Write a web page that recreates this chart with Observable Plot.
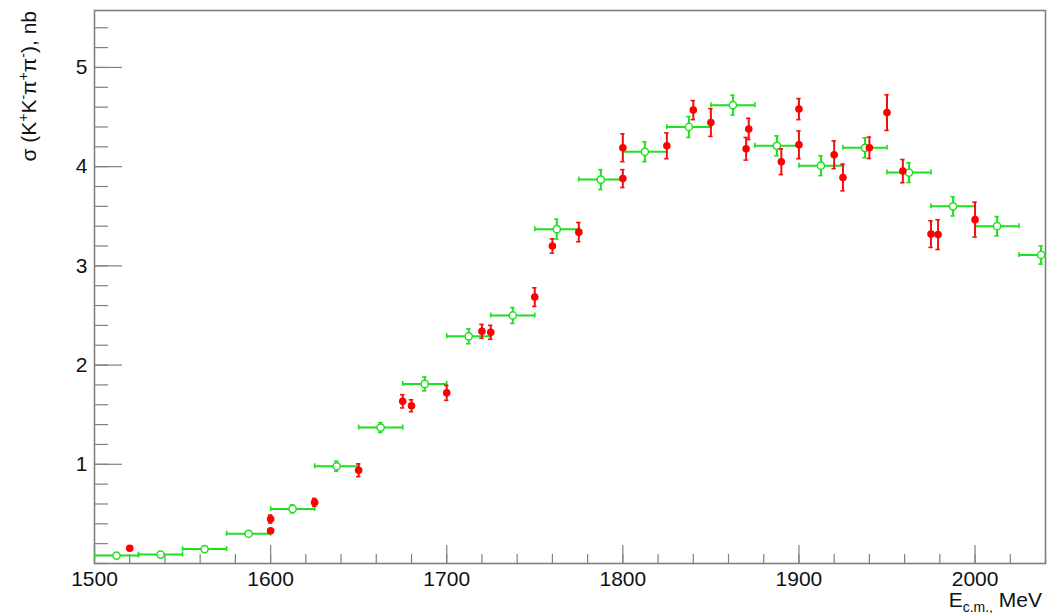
<!DOCTYPE html>
<html>
<head>
<meta charset="utf-8">
<script src="https://cdn.jsdelivr.net/npm/d3@7"></script>
<script src="https://cdn.jsdelivr.net/npm/@observablehq/plot@0.6"></script>
<style>
  html, body { margin: 0; padding: 0; background: #fff; }
  #chart { width: 1047px; height: 613px; overflow: hidden; }
</style>
</head>
<body>
<div id="chart"></div>
<script>
// Binned cross section (open green points): bin centres in MeV, 25 MeV wide
const binWidth = 25;
const binE = [1512.5, 1537.5, 1562.5, 1587.5, 1612.5, 1637.5, 1662.5, 1687.5, 1712.5, 1737.5, 1762.5,
              1787.5, 1812.5, 1837.5, 1862.5, 1887.5, 1912.5, 1937.5, 1962.5, 1987.5, 2012.5, 2037.5];
const binSigma = [0.08, 0.09, 0.145, 0.30, 0.55, 0.98, 1.37, 1.81, 2.29, 2.50, 3.37,
                  3.87, 4.15, 4.40, 4.62, 4.21, 4.01, 4.19, 3.94, 3.60, 3.40, 3.11];
const binErr = [0.01, 0.01, 0.015, 0.02, 0.04, 0.05, 0.05, 0.07, 0.075, 0.08, 0.10,
                0.10, 0.10, 0.105, 0.10, 0.10, 0.10, 0.10, 0.10, 0.097, 0.097, 0.092];

// Scan points (filled red points): energy in MeV, cross section and error in nb
const scanE = [1520, 1600, 1600, 1625, 1650, 1675, 1680, 1700, 1720, 1725, 1750, 1760, 1775, 1800, 1800,
               1825, 1840, 1850, 1870, 1871.5, 1890, 1900, 1900, 1920, 1925, 1940, 1950, 1959, 1975, 1979, 2000];
const scanSigma = [0.153, 0.448, 0.33, 0.616, 0.94, 1.635, 1.59, 1.72, 2.34, 2.33, 2.685, 3.20, 3.34, 3.88, 4.19,
                   4.21, 4.57, 4.445, 4.18, 4.38, 4.05, 4.58, 4.22, 4.12, 3.89, 4.19, 4.545, 3.955, 3.32, 3.315, 3.466];
const scanErr = [0.02, 0.04, 0.02, 0.04, 0.064, 0.067, 0.06, 0.075, 0.07, 0.07, 0.094, 0.072, 0.097, 0.09, 0.14,
                 0.13, 0.096, 0.14, 0.114, 0.107, 0.13, 0.106, 0.14, 0.14, 0.134, 0.108, 0.18, 0.117, 0.134, 0.15, 0.176];

// Axis ticks
const xMajor = [1500, 1600, 1700, 1800, 1900, 2000];
const xMinor = d3.range(1500, 2041, 20);
const yMajor = [1, 2, 3, 4, 5];
const yMinor = d3.range(0, 5.5, 0.2);

const binned = binE.map((e, i) => ({e, s: binSigma[i], err: binErr[i], lo: e - binWidth / 2, hi: e + binWidth / 2}));
const scan = scanE.map((e, i) => ({e, s: scanSigma[i], err: scanErr[i]}));

const W = 1047, H = 613, mL = 94, mR = 2, mT = 10, mB = 50;
const innerW = W - mL - mR, innerH = H - mT - mB;
const green = "#1fe01f", red = "#ee1111", axisGrey = "#808080";

const svg = Plot.plot({
  width: W, height: H,
  marginLeft: mL, marginRight: mR, marginTop: mT, marginBottom: mB,
  style: {fontFamily: "'Liberation Sans', Arial, Helvetica, sans-serif", background: "#fff", color: "#111"},
  x: {domain: [1500, 2040], axis: null},
  y: {domain: [0, 5.574], axis: null},
  marks: [
    // ticks drawn inward from the bottom and left axes
    Plot.ruleX(xMinor, {stroke: axisGrey, strokeWidth: 1.2, insetTop: innerH - 9}),
    Plot.ruleX(xMajor, {stroke: axisGrey, strokeWidth: 1.2, insetTop: innerH - 18}),
    Plot.ruleY(yMinor, {stroke: axisGrey, strokeWidth: 1.2, insetRight: innerW - 14}),
    Plot.ruleY(yMajor, {stroke: axisGrey, strokeWidth: 1.2, insetRight: innerW - 28}),
    Plot.frame({stroke: axisGrey, strokeWidth: 1.6}),
    Plot.axisX(xMajor, {tickSize: 0, tickPadding: 8, fontSize: 21, label: null, tickFormat: d => String(d)}),
    Plot.axisY(yMajor, {tickSize: 0, tickPadding: 7, fontSize: 21, label: null, tickFormat: d => String(d)}),

    // binned points: bin width, error bars, open markers
    Plot.ruleY(binned, {y: "s", x1: "lo", x2: "hi", stroke: green, strokeWidth: 2, clip: true}),
    Plot.ruleX(binned, {x: "lo", y1: "s", y2: "s", insetTop: -2.5, insetBottom: -2.5, stroke: green, strokeWidth: 1.6, clip: true}),
    Plot.ruleX(binned, {x: "hi", y1: "s", y2: "s", insetTop: -2.5, insetBottom: -2.5, stroke: green, strokeWidth: 1.6, clip: true}),
    Plot.ruleX(binned, {x: "e", y1: d => d.s - d.err, y2: d => d.s + d.err, stroke: green, strokeWidth: 2}),
    Plot.ruleY(binned, {y: d => d.s + d.err, x1: "e", x2: "e", insetLeft: -2.2, insetRight: -2.2, stroke: green, strokeWidth: 1.6}),
    Plot.ruleY(binned, {y: d => d.s - d.err, x1: "e", x2: "e", insetLeft: -2.2, insetRight: -2.2, stroke: green, strokeWidth: 1.6}),
    Plot.dot(binned, {x: "e", y: "s", r: 3.6, fill: "#fff", stroke: green, strokeWidth: 1.5}),

    // scan points: error bars and filled markers
    Plot.ruleX(scan, {x: "e", y1: d => d.s - d.err, y2: d => d.s + d.err, stroke: red, strokeWidth: 2}),
    Plot.ruleY(scan, {y: d => d.s + d.err, x1: "e", x2: "e", insetLeft: -2.2, insetRight: -2.2, stroke: red, strokeWidth: 1.6}),
    Plot.ruleY(scan, {y: d => d.s - d.err, x1: "e", x2: "e", insetLeft: -2.2, insetRight: -2.2, stroke: red, strokeWidth: 1.6}),
    Plot.dot(scan, {x: "e", y: "s", r: 3.8, fill: "#ff0000", stroke: "none"})
  ]
});

// axis titles with super- and subscripts
const root = d3.select(svg);

function addRich(text, parts) {
  // parts: [string, shift] where shift is 0 (normal), 1 (superscript) or -1 (subscript)
  let prev = 0;
  for (const [str, shift] of parts) {
    const offset = shift === 1 ? -8 : shift === -1 ? 5 : 0;
    text.append("tspan")
      .attr("dy", offset - prev)
      .attr("font-size", shift === 0 ? 21 : 14)
      .text(str);
    prev = offset;
  }
}

const yTitle = root.append("text")
  .attr("transform", "translate(36,11) rotate(-90)")
  .attr("text-anchor", "end")
  .attr("font-size", 21)
  .attr("fill", "#111");
addRich(yTitle, [["σ (K", 0], ["+", 1], ["K", 0], ["-", 1], ["π", 0], ["+", 1], ["π", 0], ["-", 1], ["), nb", 0]]);

const xTitle = root.append("text")
  .attr("x", 1042)
  .attr("y", 606.5)
  .attr("text-anchor", "end")
  .attr("font-size", 21)
  .attr("fill", "#111");
addRich(xTitle, [["E", 0], ["c.m.,", -1], [" MeV", 0]]);

document.getElementById("chart").appendChild(svg);
</script>
</body>
</html>
